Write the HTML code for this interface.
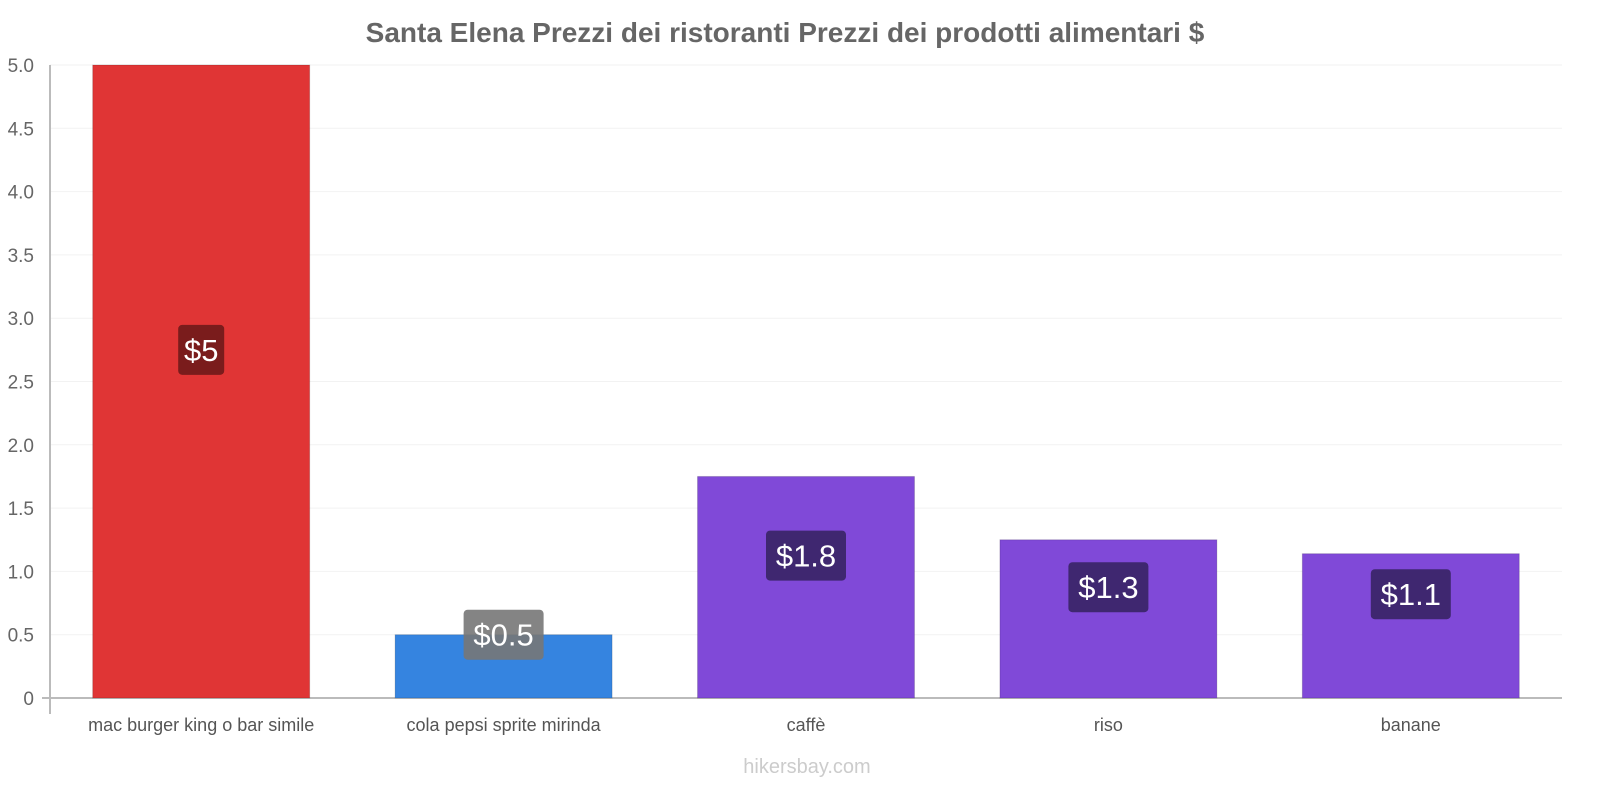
<!DOCTYPE html>
<html><head><meta charset="utf-8"><style>
html,body{margin:0;padding:0;background:#fff;font-family:"Liberation Sans",sans-serif;overflow:hidden;width:1600px;height:800px;}
svg{display:block;}
</style></head><body>
<svg id="chart" width="1600" height="800" xmlns="http://www.w3.org/2000/svg" font-family="Liberation Sans, sans-serif">
<text x="785" y="42" text-anchor="middle" font-size="28" font-weight="bold" fill="#666">Santa Elena Prezzi dei ristoranti Prezzi dei prodotti alimentari $</text>
<text x="807" y="773" text-anchor="middle" font-size="20" fill="#ccc">hikersbay.com</text>
<g id="g"></g>
</svg>
<script>
const categories=["mac burger king o bar simile","cola pepsi sprite mirinda","caffè","riso","banane"];
const values=[5,0.5,1.75,1.25,1.14];
const valueLabels=["$5","$0.5","$1.8","$1.3","$1.1"];
const ticks=[0,0.5,1,1.5,2,2.5,3,3.5,4,4.5,5];
const tickLabels=["0","0.5","1.0","1.5","2.0","2.5","3.0","3.5","4.0","4.5","5.0"];
const colors=["#e03535","#3584e0","#8049d8","#8049d8","#8049d8"];
const labelBg=["#7a1c1c","#777777","#3f2770","#3f2770","#3f2770"];
const NS="http://www.w3.org/2000/svg";
const g=document.getElementById('g');
const x0=50,x1=1562,y0=698,y5=65;
const y=v=>y0+(y5-y0)*v/5;
const band=(x1-x0)/categories.length;
const xc=i=>x0+band*(i+0.5);
function mk(t,a){const e=document.createElementNS(NS,t);for(const k in a)e.setAttribute(k,a[k]);g.appendChild(e);return e;}
ticks.forEach((t,i)=>{
 const l=mk('line',{x1:x0,x2:x1,y1:y(t),y2:y(t),stroke:'#f2f2f2'});
 
 
 const tx=mk('text',{x:34,y:y(t)+7,'text-anchor':'end','font-size':19,fill:'#666'});
 tx.textContent=tickLabels[i];
 
 
});
const ax=mk('line',{x1:x0,x2:x0,y1:y5,y2:714,stroke:'#bbb','stroke-width':2});


const bx=mk('line',{x1:x0-8,x2:x1,y1:y0,y2:y0,stroke:'#bbb','stroke-width':2});


values.forEach((v,i)=>{
 const w=217;
 const r=mk('rect',{x:xc(i)-w/2,y:y(v),width:w,height:y0-y(v),fill:colors[i],stroke:'rgba(0,0,0,0.15)'});
 
 
 const ly=y(v/2+0.25);
 const lw=valueLabels[i].length*17+12;
 const lb=mk('rect',{x:xc(i)-lw/2,y:ly-25,width:lw,height:50,rx:4,fill:labelBg[i],opacity:i==1?0.9:1});
 
 
 const lt=mk('text',{x:xc(i),y:ly+11,'text-anchor':'middle','font-size':31,fill:'#fff'});
 lt.textContent=valueLabels[i];
 
 
 const ct=mk('text',{x:xc(i),y:731,'text-anchor':'middle','font-size':18,fill:'#555'});
 ct.textContent=categories[i];
 
 
});
</script>
</body></html>
